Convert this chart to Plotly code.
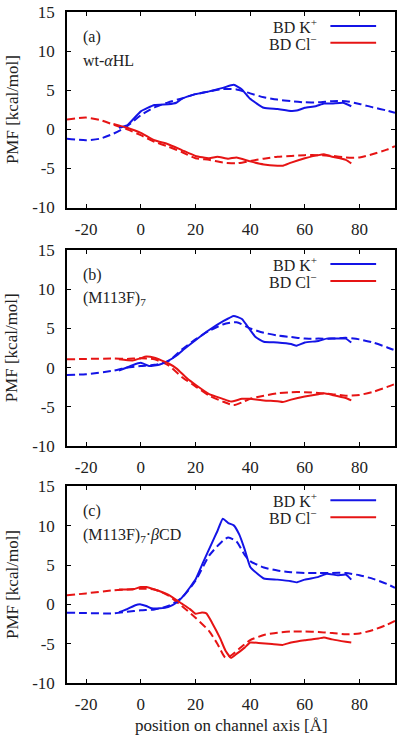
import plotly.graph_objects as go

# ---------------- data ----------------
# panel (a) wt-aHL
a_k_bd_x = [-8, -5, 0, 5, 10, 13, 15, 20, 25, 30, 34, 37, 40, 45, 50, 55, 57, 60, 64, 67, 70, 74, 77]
a_k_bd_y = [0.2, 0.5, 2.3, 3.1, 3.2, 3.4, 3.9, 4.5, 4.85, 5.3, 5.7, 5.1, 3.9, 2.75, 2.6, 2.35, 2.4, 2.75, 2.95, 3.3, 3.3, 3.4, 2.95]
a_cl_bd_x = [-10, -5, 0, 5, 10, 15, 20, 25, 28, 32, 35, 40, 45, 50, 52, 55, 60, 65, 67, 70, 75, 77]
a_cl_bd_y = [0.7, 0.2, -0.45, -1.4, -1.9, -2.65, -3.4, -3.7, -3.5, -3.75, -3.6, -4.1, -4.5, -4.65, -4.65, -4.25, -3.7, -3.3, -3.2, -3.5, -3.9, -4.35]
a_k_eq_x = [-27, -20, -15, -10, -5, 0, 5, 10, 15, 20, 25, 30, 35, 40, 45, 50, 55, 60, 65, 70, 75, 80, 85, 90, 93]
a_k_eq_y = [-1.2, -1.4, -1.2, -0.55, 0.4, 1.8, 2.8, 3.45, 3.95, 4.5, 4.85, 5.15, 5.1, 4.6, 4.1, 3.8, 3.6, 3.45, 3.45, 3.6, 3.6, 3.25, 2.8, 2.4, 2.1]
a_cl_eq_x = [-27, -20, -15, -10, -5, 0, 5, 10, 15, 20, 25, 30, 35, 40, 45, 50, 55, 60, 65, 70, 75, 80, 85, 90, 93]
a_cl_eq_y = [1.27, 1.5, 1.2, 0.6, 0.0, -0.75, -1.6, -2.2, -2.9, -3.7, -3.9, -4.25, -4.35, -4.05, -3.75, -3.5, -3.4, -3.3, -3.3, -3.4, -3.6, -3.6, -3.15, -2.6, -2.15]

# panel (b) (M113F)7
b_k_bd_x = [-8, -3, 0, 3, 7, 10, 13, 16, 20, 25, 30, 34, 37, 40, 42, 45, 50, 55, 57, 60, 65, 68, 72, 75, 77]
b_k_bd_y = [-0.4, 0.3, 0.6, 0.2, 0.4, 0.85, 1.5, 2.4, 3.5, 4.8, 5.9, 6.6, 6.2, 4.8, 3.9, 3.3, 3.2, 3.0, 2.8, 3.2, 3.4, 3.7, 3.7, 3.7, 3.2]
b_cl_bd_x = [-8, -3, 0, 2, 5, 10, 13, 17, 20, 25, 30, 33, 37, 40, 45, 50, 52, 55, 60, 65, 67, 70, 75, 77]
b_cl_bd_y = [1.05, 0.9, 1.2, 1.4, 1.25, 0.55, -0.1, -1.4, -2.2, -3.4, -4.0, -4.35, -4.0, -4.0, -4.2, -4.3, -4.4, -4.1, -3.7, -3.4, -3.3, -3.5, -3.9, -4.2]
b_k_eq_x = [-27, -20, -10, -5, 0, 5, 10, 15, 20, 25, 30, 35, 40, 45, 50, 55, 60, 65, 70, 75, 80, 85, 90, 93]
b_k_eq_y = [-0.95, -0.85, -0.4, 0.0, 0.2, 0.35, 0.8, 2.3, 3.6, 4.7, 5.5, 5.8, 5.0, 4.45, 4.1, 3.9, 3.7, 3.7, 3.7, 3.8, 3.6, 3.2, 2.6, 2.2]
b_cl_eq_x = [-27, -20, -10, -5, 0, 5, 10, 15, 20, 25, 30, 34, 37, 40, 45, 50, 55, 60, 65, 70, 75, 80, 85, 90, 93]
b_cl_eq_y = [1.05, 1.1, 1.15, 1.1, 1.2, 1.05, 0.3, -1.2, -2.4, -3.6, -4.35, -4.8, -4.45, -4.0, -3.6, -3.3, -3.15, -3.15, -3.25, -3.4, -3.6, -3.5, -3.1, -2.5, -2.1]

# panel (c) (M113F)7-bCD
c_k_bd_x = [-8, -5, -2, 0, 2, 4, 7, 10, 13, 16, 20, 23, 26, 28, 30, 32, 34, 36, 38, 40, 43, 45, 50, 55, 57, 60, 65, 68, 72, 75, 77]
c_k_bd_y = [-1.0, -0.6, -0.1, 0.0, -0.2, -0.5, -0.5, -0.35, 0.2, 1.25, 3.15, 5.5, 7.8, 9.3, 10.9, 10.35, 10.05, 8.9, 7.0, 4.8, 3.8, 3.3, 3.15, 2.95, 2.8, 3.15, 3.5, 3.9, 3.7, 3.8, 3.15]
c_cl_bd_x = [-8, -3, 0, 2, 5, 10, 15, 18, 20, 22, 24, 26, 29, 31, 33, 35, 38, 40, 43, 48, 52, 55, 60, 65, 67, 70, 75, 77]
c_cl_bd_y = [1.9, 1.9, 2.2, 2.2, 1.9, 1.25, 0.1, -0.6, -1.2, -1.05, -1.15, -2.3, -4.3, -5.9, -6.8, -6.3, -5.5, -4.85, -4.9, -5.05, -5.15, -4.85, -4.55, -4.35, -4.2, -4.45, -4.75, -4.85]
c_k_eq_x = [-27, -20, -10, -5, 0, 5, 10, 15, 20, 25, 30, 32, 35, 38, 40, 45, 50, 55, 60, 65, 70, 75, 80, 85, 90, 93]
c_k_eq_y = [-1.05, -1.1, -1.15, -0.95, -0.75, -0.65, -0.2, 0.85, 3.0, 6.2, 8.1, 8.5, 8.0, 6.3, 5.5, 4.7, 4.3, 4.1, 4.0, 4.0, 4.0, 4.0, 3.7, 3.25, 2.6, 2.1]
c_cl_eq_x = [-27, -20, -10, -5, 0, 5, 10, 15, 20, 25, 28, 31, 33, 36, 40, 45, 50, 55, 60, 65, 70, 75, 80, 85, 90, 93]
c_cl_eq_y = [1.15, 1.4, 1.8, 1.9, 2.0, 1.9, 1.15, -0.2, -1.7, -3.4, -5.0, -6.8, -6.5, -5.65, -4.55, -3.9, -3.6, -3.45, -3.45, -3.5, -3.65, -3.8, -3.7, -3.25, -2.6, -2.1]

panel_tags = ["(a)", "(b)", "(c)"]
panel_names = ["wt-<i>α</i>HL", "(M113F)<sub>7</sub>", "(M113F)<sub>7</sub>·<i>β</i>CD"]
legend_labels = ["BD K<sup>+</sup>", "BD Cl<sup>−</sup>"]
x_ticks = [-20, 0, 20, 40, 60, 80]
x_ticklabels = ["-20", "0", "20", "40", "60", "80"]
y_ticks = [-10, -5, 0, 5, 10, 15]
y_ticklabels = ["-10", "-5", "0", "5", "10", "15"]
x_title = "position on channel axis [Å]"
y_title = "PMF [kcal/mol]"

panels = [
    (a_k_bd_x, a_k_bd_y, a_cl_bd_x, a_cl_bd_y, a_k_eq_x, a_k_eq_y, a_cl_eq_x, a_cl_eq_y),
    (b_k_bd_x, b_k_bd_y, b_cl_bd_x, b_cl_bd_y, b_k_eq_x, b_k_eq_y, b_cl_eq_x, b_cl_eq_y),
    (c_k_bd_x, c_k_bd_y, c_cl_bd_x, c_cl_bd_y, c_k_eq_x, c_k_eq_y, c_cl_eq_x, c_cl_eq_y),
]

# ---------------- layout ----------------
W, H = 400, 735
ML, MR, MT, MB = 67, 3, 7, 52
PW = W - ML - MR
ph = H - MT - MB
pix = [(7, 204), (247, 444), (485, 683)]
domains = [[(H - MB - b) / ph, (H - MB - t) / ph] for t, b in pix]

BLUE = "#1414e6"
RED = "#e61414"
FONT = "Liberation Serif, Times New Roman, serif"
TXT = "#222"

fig = go.Figure()
for i, (kx, ky, cx, cy, kex, key, cex, cey) in enumerate(panels):
    xa = "x" if i == 0 else f"x{i+1}"
    ya = "y" if i == 0 else f"y{i+1}"
    fig.add_trace(go.Scatter(x=kex, y=key, mode="lines", xaxis=xa, yaxis=ya,
                             line=dict(color=BLUE, width=2, dash="8px,4px", shape="spline", smoothing=0.6),
                             showlegend=False))
    fig.add_trace(go.Scatter(x=cex, y=cey, mode="lines", xaxis=xa, yaxis=ya,
                             line=dict(color=RED, width=2, dash="8px,4px", shape="spline", smoothing=0.6),
                             showlegend=False))
    fig.add_trace(go.Scatter(x=kx, y=ky, mode="lines", xaxis=xa, yaxis=ya,
                             line=dict(color=BLUE, width=2, shape="spline", smoothing=0.4),
                             showlegend=False))
    fig.add_trace(go.Scatter(x=cx, y=cy, mode="lines", xaxis=xa, yaxis=ya,
                             line=dict(color=RED, width=2, shape="spline", smoothing=0.4),
                             showlegend=False))

axis_common = dict(showline=True, mirror="ticks", linecolor="black", linewidth=1.5,
                   ticks="inside", ticklen=4, tickwidth=1, tickcolor="black",
                   showgrid=False, zeroline=False,
                   tickfont=dict(family=FONT, size=17, color=TXT))

for i in range(3):
    xkey = "xaxis" if i == 0 else f"xaxis{i+1}"
    ykey = "yaxis" if i == 0 else f"yaxis{i+1}"
    yname = "y" if i == 0 else f"y{i+1}"
    xname = "x" if i == 0 else f"x{i+1}"
    fig.update_layout({
        xkey: dict(axis_common, domain=[0, 1], range=[-27, 93], tickvals=x_ticks,
                   ticktext=x_ticklabels, anchor=yname, ticklabelstandoff=5),
        ykey: dict(axis_common, domain=domains[i], range=[-10, 15], tickvals=y_ticks,
                   ticktext=y_ticklabels, anchor=xname, ticklabelstandoff=7),
    })

annotations = []
shapes = []
for i in range(3):
    xname = "x" if i == 0 else f"x{i+1}"
    yname = "y" if i == 0 else f"y{i+1}"
    xd, yd = f"{xname} domain", f"{yname} domain"
    t, b = pix[i]
    hpx = b - t

    def ydom(py, b=b, hpx=hpx):
        return (b - py) / hpx

    annotations.append(dict(xref=xd, yref=yd, x=(81 - ML) / PW, y=ydom(t + 25), text=panel_tags[i],
                            showarrow=False, xanchor="left", yanchor="middle",
                            font=dict(family=FONT, size=16, color=TXT)))
    annotations.append(dict(xref=xd, yref=yd, x=(81 - ML) / PW, y=ydom(t + 49), text=panel_names[i],
                            showarrow=False, xanchor="left", yanchor="middle",
                            font=dict(family=FONT, size=16, color=TXT)))
    for j, (lab, col) in enumerate(zip(legend_labels, [BLUE, RED])):
        ly = t + 14 + 17 * j
        annotations.append(dict(xref=xd, yref=yd, x=(321 - ML) / PW, y=ydom(ly), text=lab,
                                showarrow=False, xanchor="right", yanchor="middle",
                                font=dict(family=FONT, size=16, color=TXT)))
        shapes.append(dict(type="line", xref=xd, yref=yd,
                           x0=(332 - ML) / PW, x1=(378 - ML) / PW, y0=ydom(ly), y1=ydom(ly),
                           line=dict(color=col, width=2)))
    annotations.append(dict(xref="paper", yref=yd, x=(12 - ML) / PW, y=0.5, text=y_title,
                            showarrow=False, xanchor="center", yanchor="middle", textangle=-90,
                            font=dict(family=FONT, size=17, color=TXT)))

annotations.append(dict(xref="paper", yref="paper", x=0.5, y=(H - MB - 726) / ph, text=x_title,
                        showarrow=False, xanchor="center", yanchor="middle",
                        font=dict(family=FONT, size=17, color=TXT)))

fig.update_layout(width=W, height=H, margin=dict(l=ML, r=MR, t=MT, b=MB),
                  paper_bgcolor="white", plot_bgcolor="white",
                  annotations=annotations, shapes=shapes, showlegend=False)

fig.write_html("out.html", config={"displayModeBar": False},
               post_script="document.body.style.margin='0px';document.body.style.overflow='hidden';")
